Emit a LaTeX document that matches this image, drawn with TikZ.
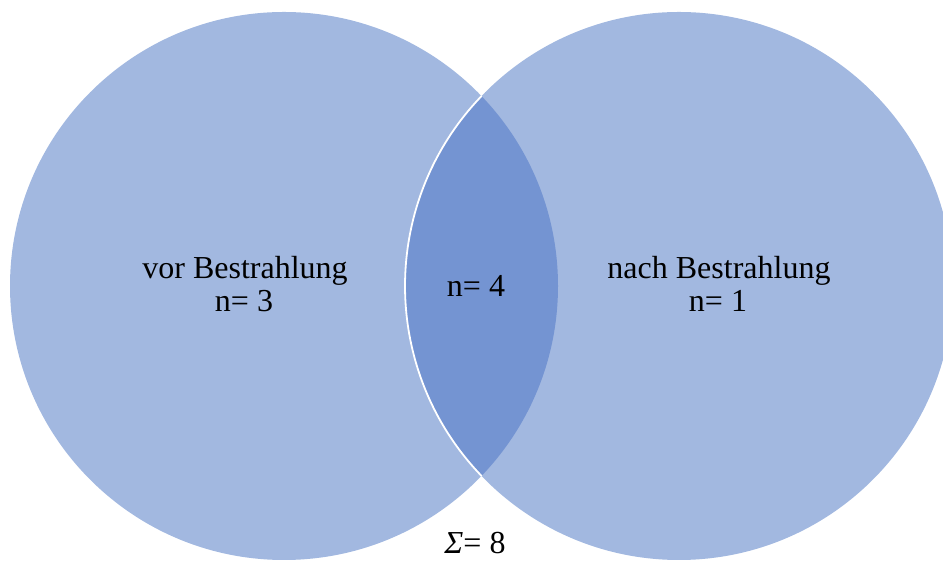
\documentclass[tikz,border=0pt]{standalone}
\usepackage{fontspec}
\setmainfont{Liberation Serif}
\definecolor{circfill}{HTML}{A2B8E0}
\definecolor{lensfill}{HTML}{7494D2}
\begin{document}
\begin{tikzpicture}[x=1pt,y=1pt,
  setcircle/.style={circle, fill=circfill, minimum size=548pt, inner sep=0pt, draw=none},
  lbl/.style={font=\fontsize{32}{33}\selectfont, align=center, inner sep=0pt, anchor=base}]
\useasboundingbox (0,0) rectangle (943,561);
\node[setcircle] (A) at (284,275) {};
\node[setcircle] (B) at (679,275) {};
\begin{scope}
  \clip (679,275) circle (274);
  \fill[lensfill] (284,275) circle (274);
\end{scope}
\draw[white, line width=1.8pt] (679,275) ++(136.1:274) arc[start angle=136.1, end angle=223.9, radius=274];
\node[lbl] (tA) at (245,282) {vor Bestrahlung};
\node[lbl] (nA) at (244,249) {n= 3};
\node[lbl] (tB) at (719,282) {nach Bestrahlung};
\node[lbl] (nB) at (718,249) {n= 1};
\node[lbl] (nAB) at (476,264) {n= 4};
\node[lbl] (sum) at (475,7) {\textit{Σ}= 8};
\end{tikzpicture}
\end{document}
